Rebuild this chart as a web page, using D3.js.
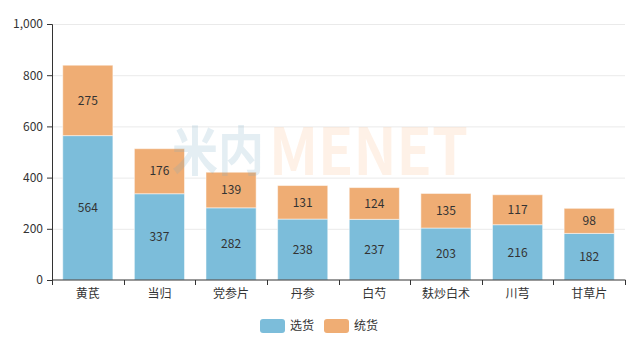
<!DOCTYPE html>
<html>
<head>
<meta charset="utf-8">
<script src="https://cdn.jsdelivr.net/npm/d3@7"></script>
<style>
  body { margin: 0; background: #fff; }
  text { font-family: "Noto Sans CJK SC", "Open Sans", sans-serif; }
</style>
</head>
<body>
<div id="grafico"></div>
<script>
const categories = ['黄芪', '当归', '党参片', '丹参', '白芍', '麸炒白术', '川芎', '甘草片'];
const xuanhuo = [564, 337, 282, 238, 237, 203, 216, 182];
const tonghuo = [275, 176, 139, 131, 124, 135, 117, 98];
const seriesNames = ['选货', '统货'];
const colors = ['#7cbdda', '#efad74'];
const yTicks = [0, 200, 400, 600, 800, 1000];

const margin = { top: 24, left: 52, right: 13, bottom: 71 };
const width  = 638 - margin.left - margin.right;
const height = 351 - margin.top - margin.bottom;

const svg = d3.select('#grafico')
              .append('svg')
              .attr('width', 638)
              .attr('height', 351);

const g = svg.append('g')
             .attr('transform', `translate(${margin.left}, ${margin.top})`);

const data = categories.map((c, i) => ({ name: c, '选货': xuanhuo[i], '统货': tonghuo[i] }));
const stacked = d3.stack().keys(seriesNames)(data);

const xScale = d3.scaleBand()
                 .domain(categories)
                 .range([0, width])
                 .paddingInner(0.3)
                 .paddingOuter(0.15);

const yScale = d3.scaleLinear()
                 .domain([0, 1000])
                 .range([height, 0]);

// grid
g.selectAll('.grid')
 .data(yTicks.slice(1))
 .enter()
 .append('line')
 .attr('x1', 0)
 .attr('x2', width)
 .attr('y1', d => yScale(d) + 0.5)
 .attr('y2', d => yScale(d) + 0.5)
 .attr('stroke', '#eaeaea');

// bars
const layer = g.selectAll('.layer')
               .data(stacked)
               .enter()
               .append('g')
               .attr('fill', (d, i) => colors[i]);

layer.selectAll('rect')
     .data(d => d)
     .enter()
     .append('rect')
     .attr('x', d => xScale(d.data.name))
     .attr('y', d => yScale(d[1]))
     .attr('width', xScale.bandwidth())
     .attr('height', d => yScale(d[0]) - yScale(d[1]))
     .attr('stroke', 'rgba(255,255,255,0.5)')
     .attr('stroke-width', 1);

layer.selectAll('text')
     .data(d => d)
     .enter()
     .append('text')
     .attr('x', d => xScale(d.data.name) + xScale.bandwidth() / 2)
     .attr('y', d => (yScale(d[0]) + yScale(d[1])) / 2)
     .attr('dy', '0.35em')
     .attr('text-anchor', 'middle')
     .attr('font-size', '12px')
     .attr('fill', '#333')
     .text(d => d[1] - d[0]);

// watermark (logo drawn as faint text over the bars)
svg.append('text')
   .attr('x', 172)
   .attr('y', 171)
   .attr('font-size', '53px')
   .attr('font-weight', 'bold')
   .attr('textLength', 92)
   .attr('lengthAdjust', 'spacingAndGlyphs')
   .attr('fill', '#7aa8c4')
   .attr('fill-opacity', 0.2)
   .text('米内');

svg.append('text')
   .attr('x', 269)
   .attr('y', 175)
   .attr('font-size', '65px')
   .attr('font-weight', 'bold')
   .attr('font-family', 'Liberation Sans, sans-serif')
   .attr('textLength', 199)
   .attr('lengthAdjust', 'spacingAndGlyphs')
   .attr('fill', '#f5a15f')
   .attr('fill-opacity', 0.15)
   .text('MENET');

// axes
const yAxis = d3.axisLeft(yScale)
                .tickValues(yTicks)
                .tickFormat(d3.format(','))
                .tickSize(5)
                .tickPadding(4);

const yG = g.append('g').call(yAxis);
yG.selectAll('text').attr('font-size', '12px').attr('fill', '#333');
yG.selectAll('line, path').attr('stroke', '#333');

const xAxis = d3.axisBottom(xScale).tickSize(0).tickPadding(9);
const xG = g.append('g')
            .attr('transform', `translate(0, ${height})`)
            .call(xAxis);
xG.selectAll('text').attr('font-size', '12px').attr('fill', '#333');
xG.select('.domain').attr('stroke', '#333').attr('d', `M0.5,0H${width + 0.5}`);

// ticks on the band boundaries
const step = xScale.step();
const start = xScale(categories[0]) - xScale.paddingOuter() * step;
const bounds = d3.range(categories.length + 1).map(i => start + i * step);
xG.selectAll('.btick')
  .data(bounds)
  .enter()
  .append('line')
  .attr('x1', d => Math.round(d) + 0.5)
  .attr('x2', d => Math.round(d) + 0.5)
  .attr('y1', 0)
  .attr('y2', 5)
  .attr('stroke', '#333');

// legend
const legend = svg.append('g').attr('transform', 'translate(260, 319)');
seriesNames.forEach((s, i) => {
    const item = legend.append('g').attr('transform', `translate(${i * 64}, 0)`);
    item.append('rect')
        .attr('width', 25)
        .attr('height', 14)
        .attr('rx', 3)
        .attr('fill', colors[i]);
    item.append('text')
        .attr('x', 30)
        .attr('y', 7)
        .attr('dy', '0.35em')
        .attr('font-size', '12px')
        .attr('fill', '#333')
        .text(s);
});
</script>
</body>
</html>
